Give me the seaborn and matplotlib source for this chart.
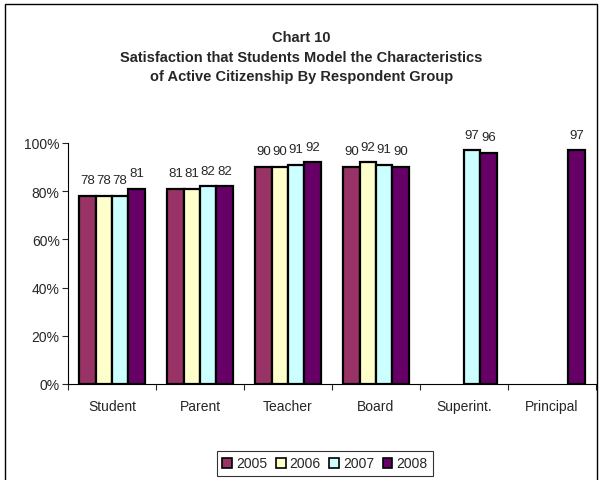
import numpy as np
import pandas as pd
import seaborn as sns
import matplotlib.pyplot as plt
from matplotlib.patches import Rectangle
from matplotlib.ticker import FuncFormatter, FixedLocator

# Chart data
groups = ['Student', 'Parent', 'Teacher', 'Board', 'Superint.', 'Principal']
years = ['2005', '2006', '2007', '2008']
v2005 = [78, 81, 90, 90, np.nan, np.nan]
v2006 = [78, 81, 90, 92, np.nan, np.nan]
v2007 = [78, 82, 91, 91, 97, np.nan]
v2008 = [81, 82, 92, 90, 96, 97]
colors = ['#993366', '#FFFFCC', '#CCFFFF', '#660066']

rows = []
for yr, vals in zip(years, [v2005, v2006, v2007, v2008]):
    for g, v in zip(groups, vals):
        rows.append({'Group': g, 'Year': yr, 'Value': v})
df = pd.DataFrame(rows)

sns.set_style('white')
plt.rcParams['font.family'] = ['Liberation Sans', 'DejaVu Sans']

fig = plt.figure(figsize=(6.03, 4.81), dpi=100)
ax = fig.add_axes([68 / 603, 1 - 385 / 481, 528 / 603, 241 / 481])

sns.barplot(data=df, x='Group', y='Value', hue='Year', order=groups,
            hue_order=years, palette=colors, saturation=1, edgecolor='black',
            linewidth=1.6, width=0.74, gap=0, errorbar=None, ax=ax)

for c in ax.containers:
    ax.bar_label(c, fmt='%d', padding=7, fontsize=9.5)

ax.set_ylim(0, 100)
ax.set_xlim(-0.5, len(groups) - 0.5)
ax.set_yticks([0, 20, 40, 60, 80, 100])
ax.yaxis.set_major_formatter(FuncFormatter(lambda x, p: f'{x:.0f}%'))
ax.xaxis.set_minor_locator(FixedLocator(np.arange(-0.5, len(groups), 1)))
ax.tick_params(axis='x', which='major', length=0, labelsize=10, pad=11)
ax.tick_params(axis='x', which='minor', length=4, width=0.8, direction='out', bottom=True)
ax.tick_params(axis='y', length=4, width=0.8, direction='out', left=True, labelsize=10, pad=2)
ax.set_xlabel('')
ax.set_ylabel('')
for s in ['top', 'right']:
    ax.spines[s].set_visible(False)
for s in ['left', 'bottom']:
    ax.spines[s].set_color('black')
    ax.spines[s].set_linewidth(0.8)

leg = ax.legend(loc='center', bbox_to_anchor=(325 / 603, 1 - 464.5 / 481),
                bbox_transform=fig.transFigure, ncol=4, frameon=True,
                fontsize=10, handlelength=0.7, handleheight=0.7, handletextpad=0.3,
                columnspacing=0.6, borderpad=0.4, fancybox=False)
leg.get_frame().set_edgecolor('black')
leg.get_frame().set_linewidth(0.8)
for h in leg.legend_handles:
    h.set_edgecolor('black')
    h.set_linewidth(1.2)

fig.text(0.5, 1 - 58 / 481,
         'Chart 10\nSatisfaction that Students Model the Characteristics\n'
         'of Active Citizenship By Respondent Group',
         ha='center', va='center', fontsize=10.5, fontweight='bold', linespacing=1.5)

fig.patches.append(Rectangle((5 / 603, -0.05), 592 / 603, 1.05 - 5 / 481,
                             transform=fig.transFigure, fill=False,
                             edgecolor='black', linewidth=1))

fig.savefig('out.png', dpi=100)
